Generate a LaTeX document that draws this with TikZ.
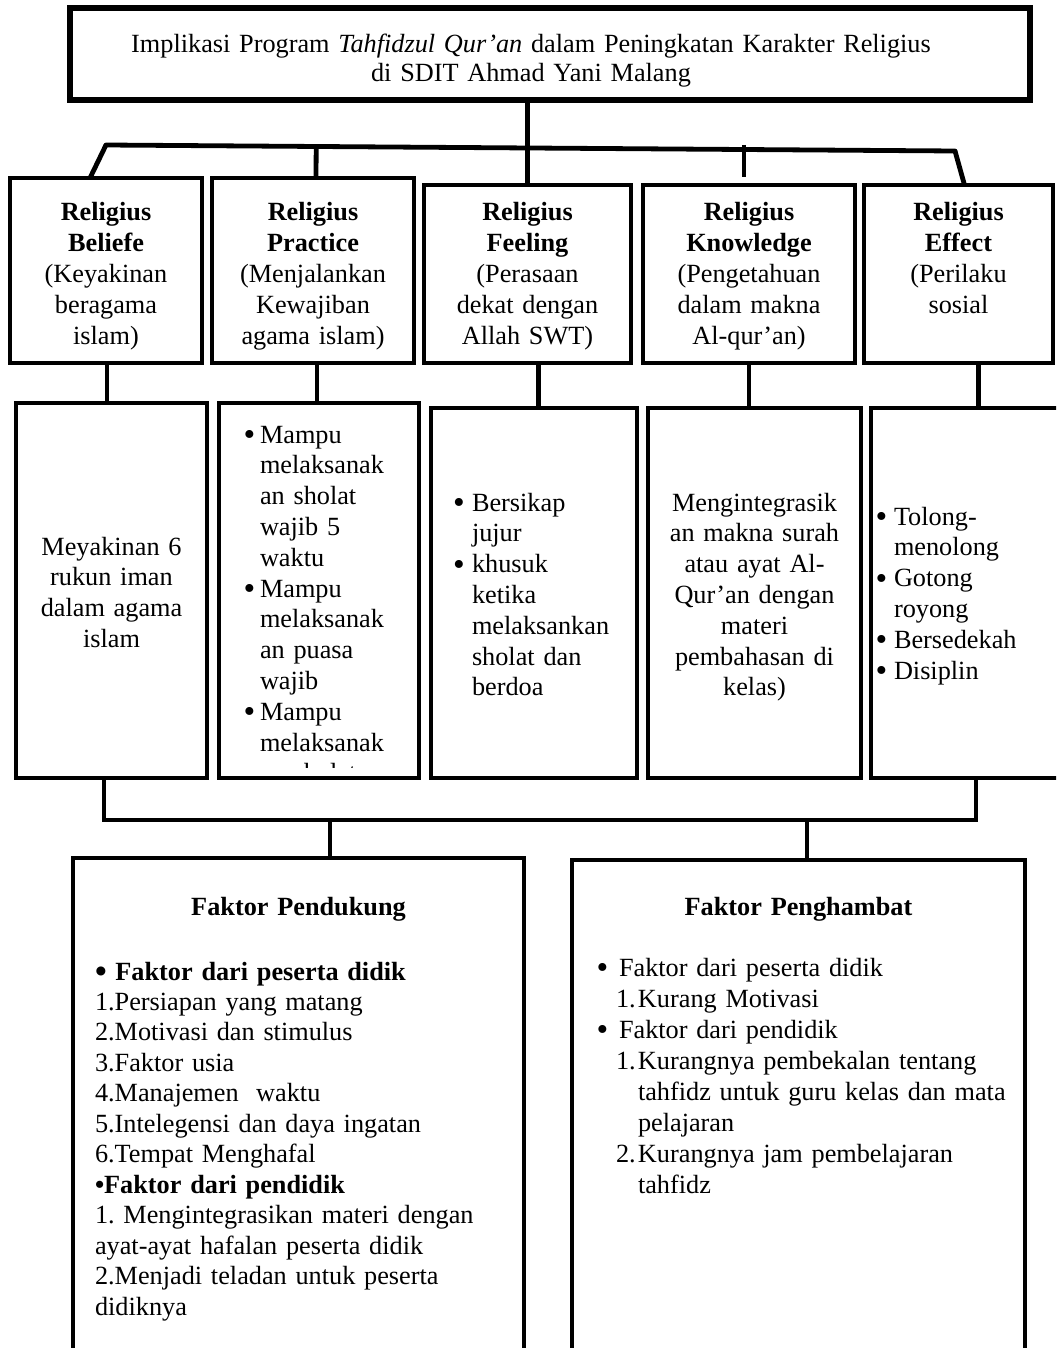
\documentclass[tikz,border=0pt]{standalone}
\usepackage{fontspec}
\setmainfont{Liberation Serif}
\usetikzlibrary{calc}
\frenchspacing
\newdimen\pxu \pxu=0.75pt
\newcommand{\fs}{\fontsize{19.7pt}{23.1pt}\selectfont}
\newcommand{\bdot}{\raisebox{-2.5\pxu}{\fontsize{25pt}{0pt}\selectfont\textbullet}}
\newcommand{\bul}[1]{\makebox[#1\pxu][l]{\bdot}}
\begin{document}
\begin{tikzpicture}[x=0.75pt,y=-0.75pt,
  box/.style={draw=black,line width=3.4pt,inner sep=0pt,outer sep=0pt},
  bx/.style 2 args={minimum width=#1*0.75pt,minimum height=#2*0.75pt},
  conn/.style={draw=black,line width=3.6pt},
  txt/.style={inner sep=0pt,outer sep=0pt,font=\fs,anchor=base,align=center,text width=#1},
  ltxt/.style={inner sep=0pt,outer sep=0pt,font=\fs,anchor=base west,align=left,text width=#1},
]
\useasboundingbox (0,0) rectangle (1056,1348);
\clip (0,0) rectangle (1056,1348);

% ---- boxes ----
\node[box,line width=4.2pt,bx={960}{92}] (top) at (550,54) {};
\node[box,bx={192}{185}] (b1) at (106,270.5) {};
\node[box,bx={202}{185}] (p1) at (313,270.5) {};
\node[box,bx={207}{178}] (f1) at (527.5,274) {};
\node[box,bx={212}{178}] (k1) at (749,274) {};
\node[box,bx={189}{178}] (e1) at (958.5,274) {};
\node[box,bx={191}{375}] (b2) at (111.5,590.5) {};
\node[box,bx={200}{375}] (p2) at (319,590.5) {};
\node[box,bx={206}{370}] (f2) at (534,593) {};
\node[box,bx={213}{370}] (k2) at (754.5,593) {};
\node[box,bx={199}{370}] (e2) at (970.5,593) {};
\node[box,bx={451}{542}] (fl) at (298.5,1129) {};
\node[box,bx={453}{540}] (fr) at (798.5,1130) {};

% ---- upper connectors ----
\coordinate (barL) at (106,145);
\coordinate (barR) at (955,151);
\draw[conn] (top.south -| f1.north) -- (f1.north);
\draw[conn,line cap=round] (barL) -- (barR);
\draw[conn] (barL) -- ($(b1.north)+(-16,0)$);
\draw[conn] ($(barL)!($(p1.north)+(3,0)$)!(barR)$) -- ($(p1.north)+(3,0)$);
\draw[conn] ($(k1.north)+(-5,-40)$) -- ($(k1.north)+(-5,-8)$);
\draw[conn] (barR) -- ($(e1.north)+(6,0)$);

% ---- row connectors ----
\draw[conn] ($(b1.south)+(1,0)$) -- ($(b2.north)+(-4.5,0)$);
\draw[conn] ($(p1.south)+(4,0)$) -- ($(p2.north)+(-2,0)$);
\draw[conn] ($(f1.south)+(11,0)$) -- ($(f2.north)+(4.5,0)$);
\draw[conn] (k1.south) -- ($(k2.north)+(-5.5,0)$);
\draw[conn] ($(e1.south)+(20,0)$) -- ($(e2.north)+(8,0)$);

% ---- lower connectors ----
\draw[conn] ($(b2.south)+(-7.5,0)$) -- ++(0,42) coordinate (bbL) -| ($(e2.south)+(5.5,0)$);
\draw[conn] ($(fl.north)+(31.5,0)$) -- ($(fl.north)+(31.5,-38)$);
\draw[conn] ($(fr.north)+(8.5,0)$) -- ($(fr.north)+(8.5,-40)$);

% ---- title ----
\node[txt=675pt,font=\fontsize{19.7pt}{21.6pt}\selectfont] (title) at (531,53)
  {Implikasi Program \textit{Tahfidzul Qur’an} dalam Peningkatan Karakter Religius\\di SDIT Ahmad Yani Malang};

% ---- row 1 texts ----
\node[txt=140pt] (t1b) at (106,221) {\textbf{Religius}\\\textbf{Beliefe}\\(Keyakinan\\beragama\\islam)};
\node[txt=145pt] (t1p) at (313,221) {\textbf{Religius}\\\textbf{Practice}\\(Menjalankan\\Kewajiban\\agama islam)};
\node[txt=150pt] (t1f) at (527.5,221) {\textbf{Religius}\\\textbf{Feeling}\\(Perasaan\\dekat dengan\\Allah SWT)};
\node[txt=150pt] (t1k) at (749,221) {\textbf{Religius}\\\textbf{Knowledge}\\(Pengetahuan\\dalam makna\\Al-qur’an)};
\node[txt=135pt] (t1e) at (958.5,221) {\textbf{Religius}\\\textbf{Effect}\\(Perilaku\\sosial};

% ---- row 2 texts ----
\node[txt=140pt] (t2b) at (111.5,555) {Meyakinan 6\\rukun iman\\dalam agama\\islam};
\begin{scope}
\clip (221,405) rectangle (417,767);
\node[ltxt=150pt] (t2p) at (243.5,443) {\bul{16.5}Mampu\\
\hspace*{16.5\pxu}melaksanak\\
\hspace*{16.5\pxu}an sholat\\
\hspace*{16.5\pxu}wajib 5\\
\hspace*{16.5\pxu}waktu\\
\bul{16.5}Mampu\\
\hspace*{16.5\pxu}melaksanak\\
\hspace*{16.5\pxu}an puasa\\
\hspace*{16.5\pxu}wajib\\
\bul{16.5}Mampu\\
\hspace*{16.5\pxu}melaksanak\\
\hspace*{16.5\pxu}an sholat};
\end{scope}
\node[ltxt=150pt] (t2f) at (453,511) {\bul{19}Bersikap\\
\hspace*{19\pxu}jujur\\
\bul{19}khusuk\\
\hspace*{19\pxu}ketika\\
\hspace*{19\pxu}melaksankan\\
\hspace*{19\pxu}sholat dan\\
\hspace*{19\pxu}berdoa};
\node[txt=155pt] (t2k) at (754.5,511) {Mengintegrasik\\an makna surah\\atau ayat Al-\\Qur’an dengan\\materi\\pembahasan di\\kelas)};
\node[ltxt=140pt] (t2e) at (875.5,525) {\bul{18.5}Tolong-\\
\hspace*{18.5\pxu}menolong\\
\bul{18.5}Gotong\\
\hspace*{18.5\pxu}royong\\
\bul{18.5}Bersedekah\\
\bul{18.5}Disiplin};

% ---- bottom texts ----
\node[txt=300pt,font=\fs\bfseries] (hl) at (298.5,915) {Faktor Pendukung};
\node[txt=300pt,font=\fs\bfseries] (hr) at (798.5,915) {Faktor Penghambat};
\node[ltxt=330pt,font=\fontsize{19.7pt}{22.85pt}\selectfont] (lp) at (95,980) {%
\textbf{\bdot\ Faktor dari peserta didik}\\
1.Persiapan yang matang\\
2.Motivasi dan stimulus\\
3.Faktor usia\\
4.Manajemen\ \ waktu\\
5.Intelegensi dan daya ingatan\\
6.Tempat Menghafal\\
\textbf{\textbullet Faktor dari pendidik}\\
1. Mengintegrasikan materi dengan\\
ayat-ayat hafalan peserta didik\\
2.Menjadi teladan untuk peserta\\
didiknya};
\node[ltxt=330pt,font=\fontsize{19.7pt}{23.25pt}\selectfont] (rp) at (596.5,976) {%
\bul{22.5}Faktor dari peserta didik\\
\hspace*{19.5\pxu}\makebox[22\pxu][l]{1.}Kurang Motivasi\\
\bul{22.5}Faktor dari pendidik\\
\hspace*{19.5\pxu}\makebox[22\pxu][l]{1.}Kurangnya pembekalan tentang\\
\hspace*{41.5\pxu}tahfidz untuk guru kelas dan mata\\
\hspace*{41.5\pxu}pelajaran\\
\hspace*{19.5\pxu}\makebox[22\pxu][l]{2.}Kurangnya jam pembelajaran\\
\hspace*{41.5\pxu}tahfidz};
\end{tikzpicture}
\end{document}
